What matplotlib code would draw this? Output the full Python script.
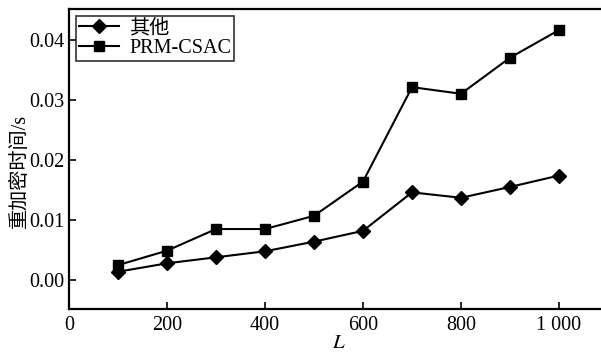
import matplotlib
matplotlib.use('Agg')
import matplotlib.pyplot as plt

plt.rcParams['font.family'] = ['Liberation Serif', 'Noto Sans CJK SC']
plt.rcParams['mathtext.fontset'] = 'stix'

L = [100, 200, 300, 400, 500, 600, 700, 800, 900, 1000]
other = [0.0014, 0.0028, 0.0038, 0.0048, 0.0064, 0.0082, 0.0146, 0.0137, 0.0155, 0.0174]
prm = [0.0025, 0.0049, 0.0085, 0.0085, 0.0107, 0.0164, 0.0321, 0.0310, 0.0370, 0.0416]
xticks = [0, 200, 400, 600, 800, 1000]
xticklabels = ['0', '200', '400', '600', '800', '1 000']
yticks = [0.00, 0.01, 0.02, 0.03, 0.04]

fig = plt.figure(figsize=(6.01, 3.53), dpi=100)
ax = fig.add_axes([69/601, 44/353, 539/601, 300/353])

ax.plot(L, other, color='black', lw=1.5, marker='D', markersize=7.5, label='其他')
ax.plot(L, prm, color='black', lw=1.5, marker='s', markersize=7, label='PRM-CSAC')

ax.set_xlim(0, 1100)
ax.set_ylim(-0.0048, 0.0451)
ax.set_xticks(xticks)
ax.set_xticklabels(xticklabels)
ax.set_yticks(yticks)
ax.set_yticklabels(['%.2f' % v for v in yticks])
ax.tick_params(axis='both', direction='in', labelsize=14.5, length=5, width=1.2, pad=5)
ax.tick_params(axis='y', pad=3)
for s in ax.spines.values():
    s.set_linewidth(1.6)

ax.set_xlabel('$L$', fontsize=15, labelpad=-1)
ax.set_ylabel('重加密时间/s', fontsize=14.5)
ax.yaxis.set_label_coords(-0.072, 0.46)

leg = ax.legend(loc='upper left', fontsize=14.5, frameon=True, fancybox=False,
                edgecolor='black', borderpad=0.15, labelspacing=0.05,
                handlelength=2.0, handletextpad=0.5, borderaxespad=0.35)
leg.get_frame().set_linewidth(1.2)

fig.savefig('out.png', dpi=100)
